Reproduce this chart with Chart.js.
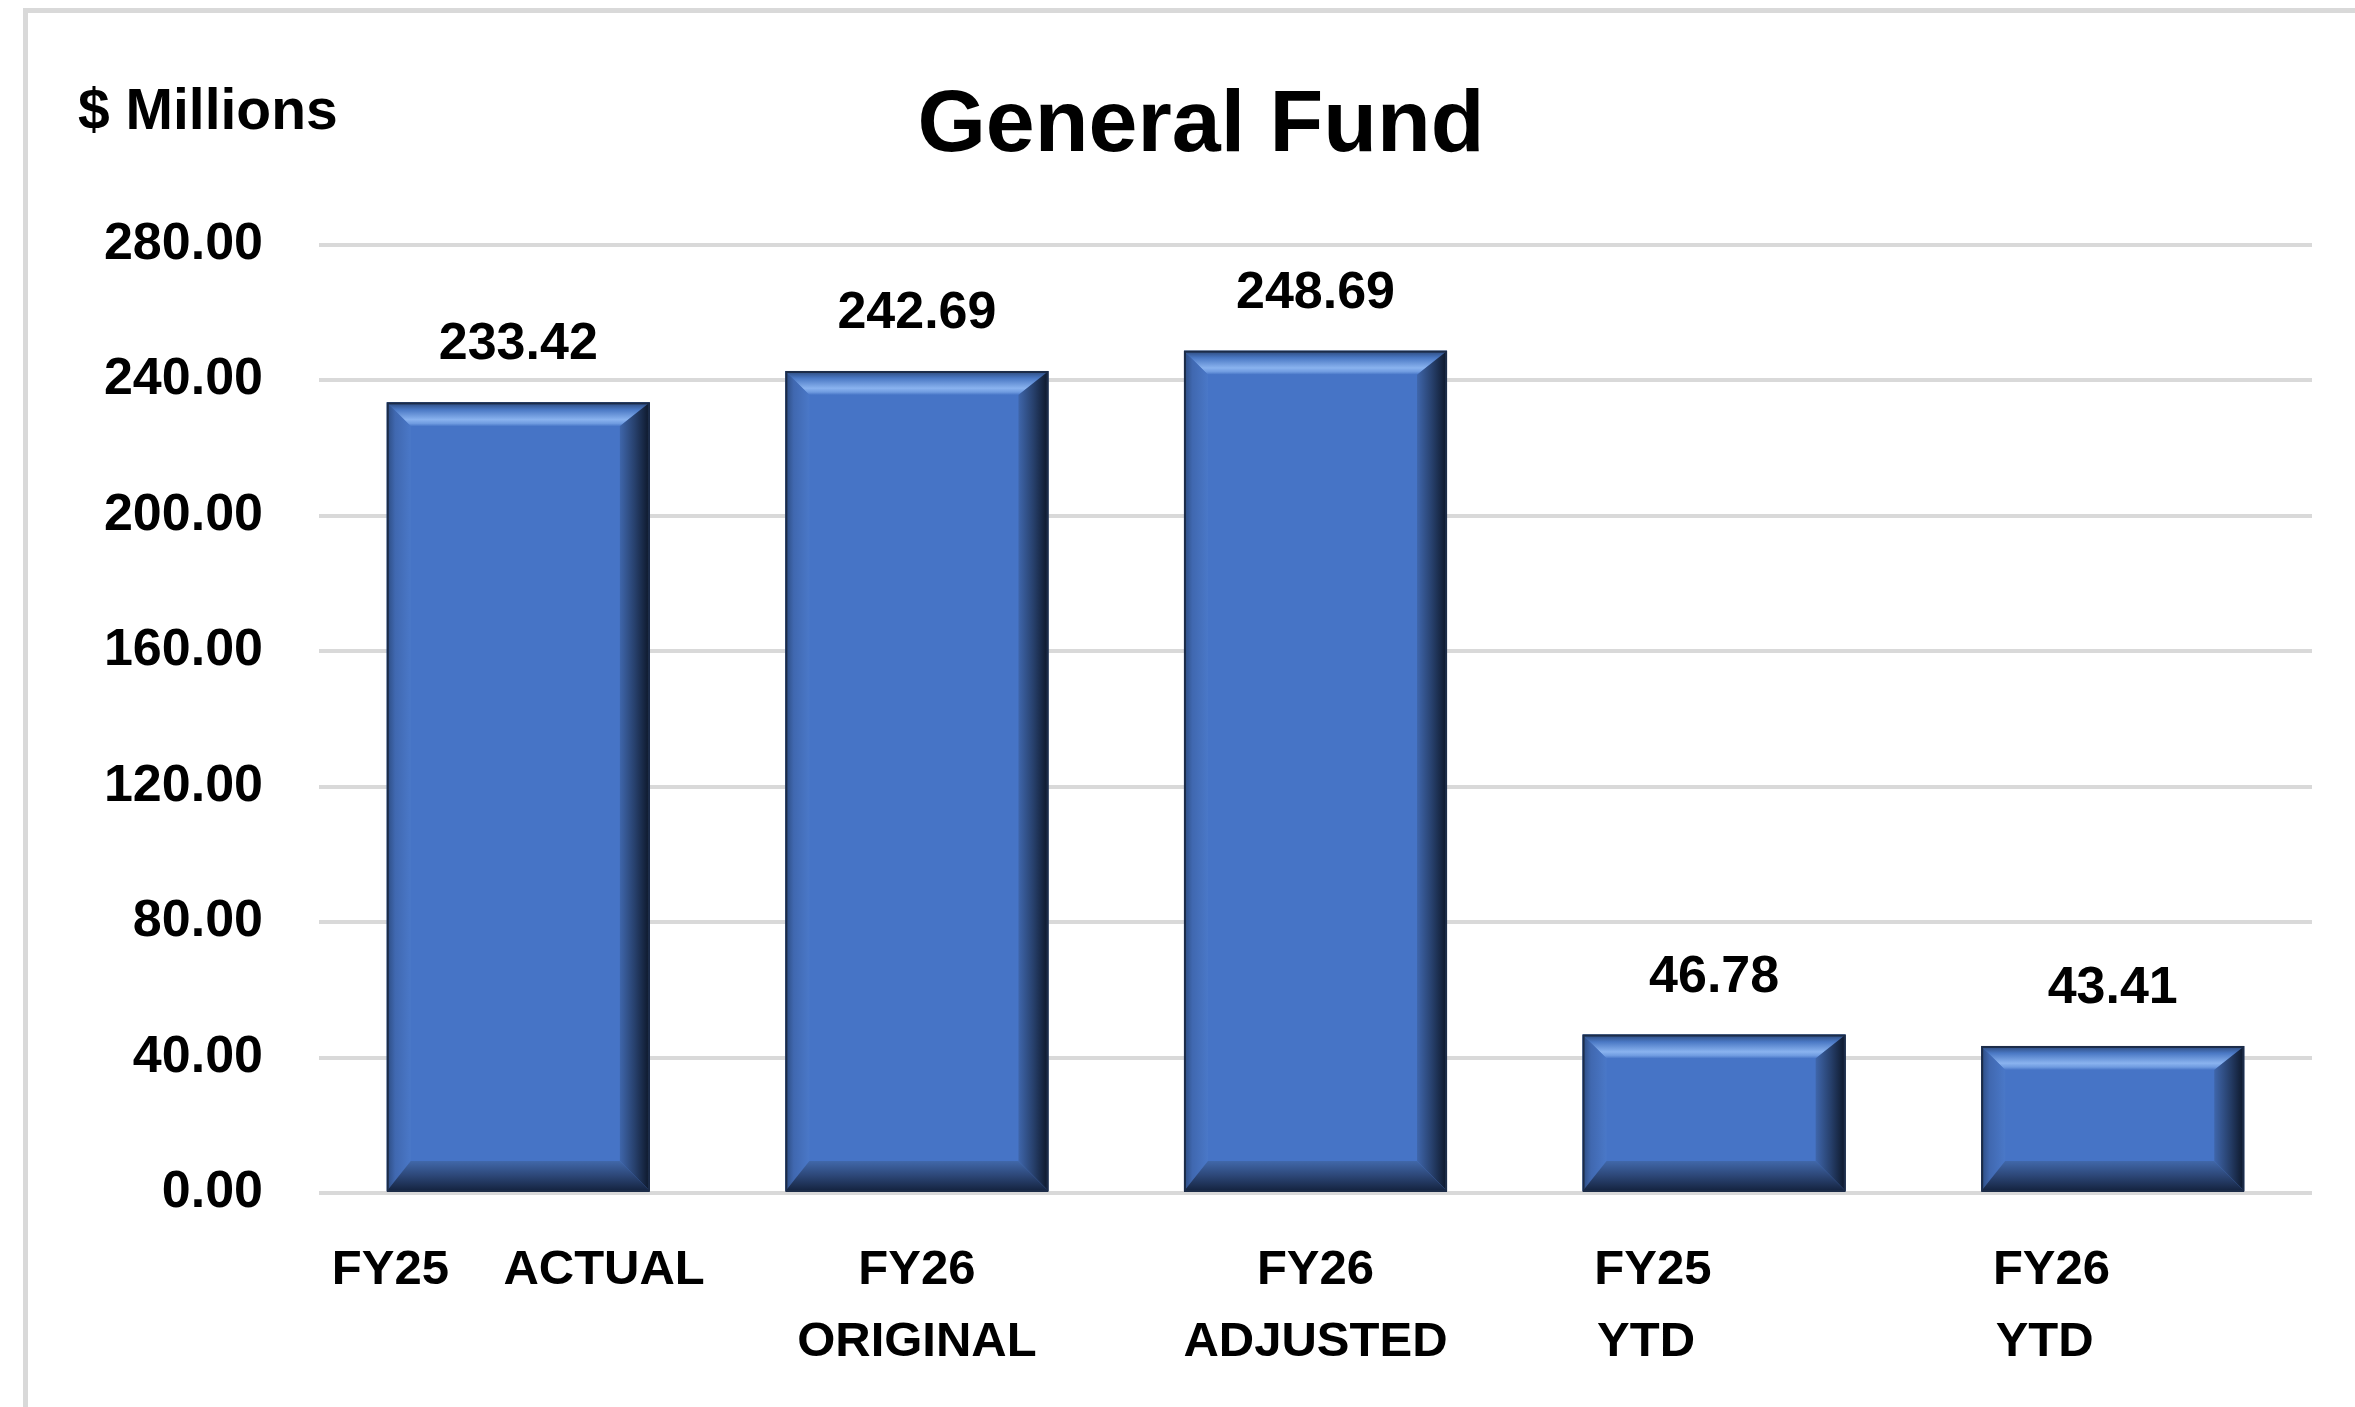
<!DOCTYPE html>
<html>
<head>
<meta charset="utf-8">
<title>General Fund</title>
<script src="https://cdn.jsdelivr.net/npm/chart.js@4.4.1/dist/chart.umd.min.js"></script>
<style>
  html, body { margin: 0; padding: 0; background: #fff; overflow: hidden; }
  #frame {
    position: absolute; left: 23px; top: 8px; right: -20px; bottom: -20px;
    border: 5px solid #d9d9d9;
  }
  #wrap { position: absolute; left: 0; top: 0; width: 2355px; height: 1407px; }
</style>
</head>
<body>
<div id="frame"></div>
<div id="wrap"><canvas id="fundChart" width="2355" height="1407"></canvas></div>
<script>
// General Fund ($ Millions) - bar chart

const categories = [
    ['FY25    ACTUAL'],
    ['FY26', 'ORIGINAL'],
    ['FY26', 'ADJUSTED'],
    ['FY25', 'YTD'],
    ['FY26', 'YTD']
];
const fundValues = [233.42, 242.69, 248.69, 46.78, 43.41];
const yTicks = [0, 40, 80, 120, 160, 200, 240, 280];

const FONT = "'Liberation Sans', Arial, sans-serif";
const BAR_BLUE = '#4674c6';

// bevelled look for the bars, drawn over each bar element
const bevelPlugin = {
    id: 'bevel',
    afterDatasetsDraw(chart) {
        const ctx = chart.ctx;
        chart.getDatasetMeta(0).data.forEach(bar => {
            const p = bar.getProps(['x', 'y', 'base', 'width'], true);
            const l = p.x - p.width / 2, r = p.x + p.width / 2;
            const t = p.y, b = p.base;
            const bl = 24, br = 30, bt = 24, bb = 30;

            ctx.save();
            // top
            let g = ctx.createLinearGradient(0, t, 0, t + bt);
            g.addColorStop(0, '#2a4677');
            g.addColorStop(0.3, '#4a78c4');
            g.addColorStop(0.72, '#8ab3ef');
            g.addColorStop(0.88, '#6f9be0');
            g.addColorStop(1, BAR_BLUE);
            ctx.fillStyle = g;
            ctx.beginPath();
            ctx.moveTo(l, t); ctx.lineTo(r, t);
            ctx.lineTo(r - br, t + bt); ctx.lineTo(l + bl, t + bt);
            ctx.closePath(); ctx.fill();

            // left
            g = ctx.createLinearGradient(l, 0, l + bl, 0);
            g.addColorStop(0, '#2c4b80');
            g.addColorStop(0.35, '#4068b0');
            g.addColorStop(1, '#4a78c8');
            ctx.fillStyle = g;
            ctx.beginPath();
            ctx.moveTo(l, t); ctx.lineTo(l + bl, t + bt);
            ctx.lineTo(l + bl, b - bb); ctx.lineTo(l, b);
            ctx.closePath(); ctx.fill();

            // right
            g = ctx.createLinearGradient(r - br, 0, r, 0);
            g.addColorStop(0, '#3f66ab');
            g.addColorStop(0.5, '#27406c');
            g.addColorStop(1, '#0c1628');
            ctx.fillStyle = g;
            ctx.beginPath();
            ctx.moveTo(r, t); ctx.lineTo(r - br, t + bt);
            ctx.lineTo(r - br, b - bb); ctx.lineTo(r, b);
            ctx.closePath(); ctx.fill();

            // bottom
            g = ctx.createLinearGradient(0, b - bb, 0, b);
            g.addColorStop(0, '#4168aa');
            g.addColorStop(0.5, '#2c4676');
            g.addColorStop(1, '#14233f');
            ctx.fillStyle = g;
            ctx.beginPath();
            ctx.moveTo(l, b); ctx.lineTo(l + bl, b - bb);
            ctx.lineTo(r - br, b - bb); ctx.lineTo(r, b);
            ctx.closePath(); ctx.fill();

            // outline
            ctx.strokeStyle = '#1c2c48';
            ctx.lineWidth = 2;
            ctx.strokeRect(l + 1, t + 1, p.width - 2, b - t - 1);
            ctx.restore();
        });
    }
};

// value labels above the bars
const valueLabelPlugin = {
    id: 'valueLabels',
    afterDatasetsDraw(chart) {
        const ctx = chart.ctx;
        ctx.save();
        ctx.font = 'bold 52px ' + FONT;
        ctx.fillStyle = '#000';
        ctx.textAlign = 'center';
        ctx.textBaseline = 'alphabetic';
        chart.getDatasetMeta(0).data.forEach((bar, i) => {
            ctx.fillText(fundValues[i].toFixed(2), bar.x, bar.y - 43);
        });
        ctx.restore();
    }
};

// "$ Millions" unit note in the top-left corner
const unitPlugin = {
    id: 'unitNote',
    afterDraw(chart) {
        const ctx = chart.ctx;
        ctx.save();
        ctx.font = 'bold 57px ' + FONT;
        ctx.fillStyle = '#000';
        ctx.textAlign = 'left';
        ctx.textBaseline = 'alphabetic';
        ctx.fillText('$ Millions', 78, 129);
        ctx.restore();
    }
};

const ctx = document.getElementById('fundChart').getContext('2d');
new Chart(ctx, {
    type: 'bar',
    data: {
        labels: categories,
        datasets: [{
            label: 'General Fund',
            data: fundValues,
            backgroundColor: BAR_BLUE,
            borderWidth: 0,
            barPercentage: 0.66,
            categoryPercentage: 1.0
        }]
    },
    options: {
        responsive: false,
        animation: false,
        devicePixelRatio: 1,
        layout: {
            padding: { top: 0, left: 90, right: 43, bottom: 0 }
        },
        plugins: {
            legend: { display: false },
            tooltip: { enabled: false },
            title: {
                display: true,
                text: 'General Fund',
                color: '#000',
                font: { family: FONT, size: 88, weight: 'bold', lineHeight: 1.2 },
                padding: { top: 74, bottom: 65 }
            }
        },
        scales: {
            x: {
                grid: { display: false, drawTicks: false },
                border: { display: false },
                ticks: {
                    color: '#000',
                    padding: 41,
                    maxRotation: 0,
                    autoSkip: false,
                    font: { family: FONT, size: 49, weight: 'bold', lineHeight: 1.47 },
                    callback: (value, i) => i >= 3 ? categories[i].map(s => s.padEnd(13)) : categories[i]
                },
                afterFit: scale => { scale.height = 214; }
            },
            y: {
                min: yTicks[0],
                max: yTicks[yTicks.length - 1],
                afterBuildTicks: scale => { scale.ticks = yTicks.map(v => ({ value: v })); },
                grid: { color: '#d9d9d9', lineWidth: 4, drawTicks: false },
                border: { display: false },
                ticks: {
                    color: '#000',
                    padding: 56,
                    font: { family: FONT, size: 52, weight: 'bold' },
                    callback: v => Number(v).toFixed(2)
                },
                afterFit: scale => { scale.width = 229; }
            }
        }
    },
    plugins: [bevelPlugin, valueLabelPlugin, unitPlugin]
});
</script>
</body>
</html>
